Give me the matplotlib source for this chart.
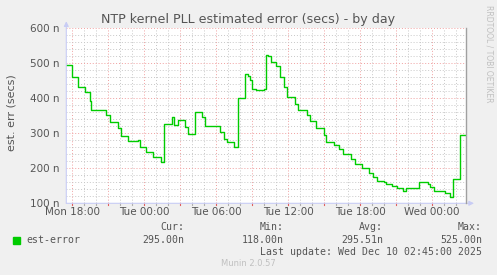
import matplotlib
matplotlib.use("Agg")
import matplotlib.pyplot as plt
from matplotlib.ticker import MultipleLocator, FixedLocator

# hours after Mon 18:00
hours = [-0.5, -0.06, 0.47, 1.09, 1.45, 1.59, 2.85, 3.12, 3.77, 4.05, 4.66, 5.44, 5.64,
         6.13, 6.75, 7.37, 7.65, 8.3, 8.45, 8.84, 9.4, 9.68, 10.24, 10.8, 11.08, 12.34,
         12.61, 12.89, 13.3, 13.5, 13.78, 14.42, 14.62, 14.79, 14.95, 15.3, 16.0, 16.16,
         16.35, 16.53, 17.0, 17.28, 17.64, 17.92, 18.56, 18.84, 19.59, 19.8, 20.3, 21.0,
         21.16, 21.8, 22.25, 22.58, 23.23, 23.59, 24.15, 24.76, 25.04, 25.4, 26.0, 26.15,
         26.7, 27.08, 27.6, 27.85, 28.95, 29.65, 29.8, 30.2, 31.04, 31.46, 31.74, 32.35, 32.83]
values = [495, 460, 431, 419, 392, 366, 352, 331, 314, 293, 278, 281, 262,
          247, 231, 217, 326, 346, 325, 338, 319, 297, 360, 346, 322, 305,
          284, 276, 274, 262, 402, 469, 465, 452, 428, 424, 428, 525,
          522, 503, 493, 460, 433, 403, 384, 366, 352, 336, 315, 295,
          276, 268, 254, 240, 227, 211, 200, 186, 174, 164, 160, 154,
          149, 143, 135, 143, 160, 155, 148, 135, 130, 118, 170, 295, 295]

x_ticks = [0, 6, 12, 18, 24, 30]
x_labels = ["Mon 18:00", "Tue 00:00", "Tue 06:00", "Tue 12:00", "Tue 18:00", "Wed 00:00"]
y_ticks = [100, 200, 300, 400, 500, 600]
y_labels = ["100 n", "200 n", "300 n", "400 n", "500 n", "600 n"]

W, H = 497, 275
fig = plt.figure(figsize=(W / 100, H / 100), dpi=100, facecolor="#F0F0F0")
L, R, T, B = 66.3, 466.0, 28.3, 203.3
ax = fig.add_axes([L / W, 1 - B / H, (R - L) / W, (B - T) / H])
ax.set_facecolor("white")
ax.set_xlim(-0.5, 32.83)
ax.set_ylim(100, 600)

ax.xaxis.set_major_locator(FixedLocator(x_ticks))
ax.set_xticklabels(x_labels)
ax.xaxis.set_minor_locator(MultipleLocator(1))
ax.yaxis.set_major_locator(FixedLocator(y_ticks))
ax.set_yticklabels(y_labels)
ax.yaxis.set_minor_locator(MultipleLocator(20))

# grids
for h in range(0, 33):
    if h % 3 == 0:
        ax.axvline(h, color="#F0A0A0", lw=0.7, ls=(0, (1, 2)), zorder=1)
    else:
        ax.axvline(h, color="#C8C8C8", lw=0.7, ls=(0, (1, 2)), zorder=1)
for v in range(120, 601, 20):
    if v % 100 == 0:
        ax.axhline(v, color="#F0A0A0", lw=0.7, ls=(0, (1, 2)), zorder=1)
    else:
        ax.axhline(v, color="#C8C8C8", lw=0.7, ls=(0, (1, 2)), zorder=1)

ax.tick_params(axis="both", which="both", length=0, colors="#555555", labelsize=7.5)
ax.tick_params(axis="x", pad=3)
ax.tick_params(axis="y", pad=5)
for s in ax.spines.values():
    s.set_visible(False)

# x ticks marks below axis
for h in range(0, 33):
    c = "#E06060" if h % 3 == 0 else "#B0B0B0"
    ax.plot([h, h], [-0.012, 0.0], transform=ax.get_xaxis_transform(), color=c,
            lw=0.8, clip_on=False, zorder=3)

ax.plot(hours, values, drawstyle="steps-post", color="#00CC00", lw=1.0, zorder=4)

# axes lines with arrows
axis_col = "#C8CCF5"
ax.annotate("", xy=(0, 1.04), xytext=(0, 0), xycoords="axes fraction",
            arrowprops=dict(arrowstyle="-|>", color=axis_col, lw=0.8,
                            mutation_scale=7, shrinkA=0, shrinkB=0), zorder=5)
ax.annotate("", xy=(1.02, 0), xytext=(0, 0), xycoords="axes fraction",
            arrowprops=dict(arrowstyle="-|>", color=axis_col, lw=0.8,
                            mutation_scale=7, shrinkA=0, shrinkB=0), zorder=5)
ax.plot([1, 1], [0, 1], transform=ax.transAxes, color="#A0A0A0", lw=1.0,
        clip_on=False, zorder=5)

# texts
fig.text(248 / W, 1 - 19 / H, "NTP kernel PLL estimated error (secs) - by day",
         ha="center", va="center", fontsize=9.1, color="#555555")
fig.text(12 / W, 1 - 113 / H, "est. err (secs)", rotation=90, ha="center", va="center",
         fontsize=8, color="#555555")
fig.text(489 / W, 1 - 5 / H, "RRDTOOL / TOBI OETIKER", rotation=270, ha="center",
         va="top", fontsize=5.5, color="#C0C0C0")

mono = "DejaVu Sans Mono"
fs = 7.1
tc = "#555555"
fig.patches.append(plt.Rectangle((13 / W, 1 - 243.5 / H), 7 / W, 7 / H,
                                 transform=fig.transFigure, color="#00CC00"))
fig.text(26 / W, 1 - 240 / H, "est-error", family=mono, fontsize=fs, color=tc, va="center")
for cx, hdr, val in [(184, "Cur:", "295.00n"), (284, "Min:", "118.00n"),
                     (383, "Avg:", "295.51n"), (482, "Max:", "525.00n")]:
    fig.text((cx - 12) / W, 1 - 227 / H, hdr, family=mono, fontsize=fs, color=tc,
             va="center", ha="center")
    fig.text(cx / W, 1 - 240 / H, val, family=mono, fontsize=fs, color=tc,
             va="center", ha="right")
fig.text(482 / W, 1 - 252 / H, "Last update: Wed Dec 10 02:45:00 2025", family=mono,
         fontsize=fs, color=tc, va="center", ha="right")
fig.text(248 / W, 1 - 264 / H, "Munin 2.0.57", fontsize=6, color="#C0C0C0",
         ha="center", va="center")

fig.savefig("out.png", dpi=100, facecolor=fig.get_facecolor())
